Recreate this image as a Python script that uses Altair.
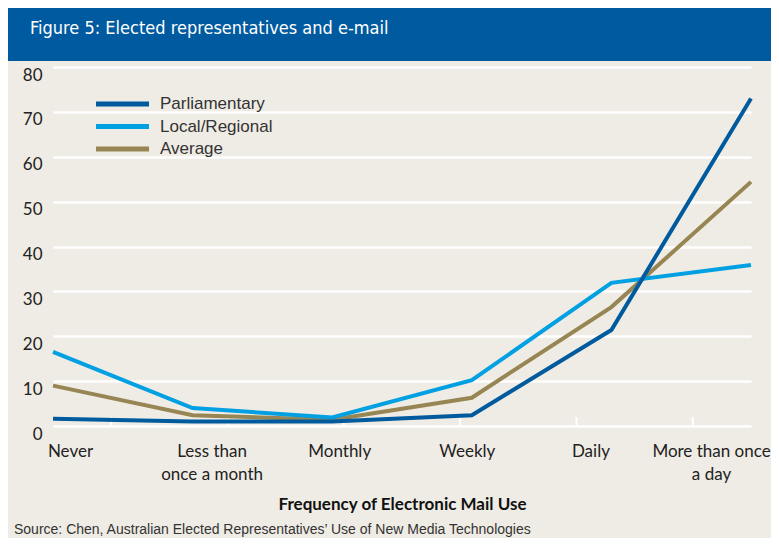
import altair as alt
import pandas as pd

# ---- data ----
categories = ["Never", "Less than once a month", "Monthly", "Weekly", "Daily", "More than once a day"]
series_names = ["Parliamentary", "Local/Regional", "Average"]
parliamentary = [1.6, 1.0, 1.0, 2.4, 21.4, 73.0]
local_regional = [16.5, 4.0, 1.9, 10.2, 31.9, 35.9]
average = [9.0, 2.4, 1.4, 6.3, 26.5, 54.4]
y_ticks = [0, 10, 20, 30, 40, 50, 60, 70, 80]

title_text = "Figure 5: Elected representatives and e-mail"
x_title = "Frequency of Electronic Mail Use"
source_text = "Source: Chen, Australian Elected Representatives\u2019 Use of New Media Technologies"

colors = ["#005A9E", "#00A0E2", "#978653"]
BG = "#EFECE5"
HEADER = "#005A9F"

rows = []
# draw order: Average, Local, Parliamentary (parliamentary on top)
for name, vals in [("Average", average), ("Local/Regional", local_regional), ("Parliamentary", parliamentary)]:
    for c, v in zip(categories, vals):
        rows.append({"category": c, "series": name, "value": v})
df = pd.DataFrame(rows)
cat_df = pd.DataFrame({"category": categories})
leg_df = pd.DataFrame({"series": series_names})
one = pd.DataFrame({"a": [0]})

W, H = 698, 359
LABEL_FONT = "Lato, Open Sans, sans-serif"

color_scale = alt.Scale(domain=series_names, range=colors)

label_expr = ("datum.label == 'Less than once a month' ? ['Less than', 'once a month'] : "
              "datum.label == 'More than once a day' ? ['More than once', 'a day'] : datum.label")
offset_expr = ("datum.value == 'Never' ? 17 : datum.value == 'Less than once a month' ? 19 : "
               "datum.value == 'Monthly' ? 7 : datum.value == 'Weekly' ? -5 : "
               "datum.value == 'Daily' ? -21 : -40")

header = alt.Chart(one).mark_rect(color=HEADER).encode(
    x=alt.value(-60), x2=alt.value(740), y=alt.value(-75), y2=alt.value(-6)
)
header_text = alt.Chart(one).mark_text(
    text=title_text, color="white", align="left", baseline="alphabetic",
    font="DejaVu Sans Condensed, Open Sans Condensed, Lato, sans-serif", fontSize=18
).encode(x=alt.value(-23), y=alt.value(-33))

ticks = alt.Chart(cat_df).mark_rule(color="white", strokeWidth=2).encode(
    x=alt.X("category:N", sort=categories,
            scale=alt.Scale(type="band", paddingInner=0, paddingOuter=0), axis=None),
    y=alt.value(H - 9), y2=alt.value(H)
)

lines = alt.Chart(df).mark_line(strokeWidth=4).encode(
    x=alt.X("category:N", sort=categories,
            scale=alt.Scale(type="point", padding=0),
            axis=alt.Axis(title=x_title, labelAngle=0, labelExpr=label_expr,
                          labelOffset={"expr": offset_expr},
                          labelFont=LABEL_FONT, labelFontSize=17, labelColor="#222",
                          labelLineHeight=23, labelPadding=17, labelBaseline="top",
                          domain=False, ticks=False, grid=False,
                          titleFont="Lato, sans-serif", titleFontSize=17,
                          titleFontWeight="bold", titleColor="#111", titlePadding=14)),
    y=alt.Y("value:Q", scale=alt.Scale(domain=[0, 80]),
            axis=alt.Axis(title=None, values=y_ticks, domain=False, ticks=False,
                          grid=True, gridColor="white", gridWidth=2.5,
                          labelFont=LABEL_FONT, labelFontSize=17, labelColor="#222",
                          labelPadding=11, labelOffset=8)),
    color=alt.Color("series:N", scale=color_scale, legend=None),
    order=alt.Order("series:N")
)

legend_y = alt.Y("series:N", sort=series_names,
                 scale=alt.Scale(type="point", domain=series_names, range=[37, 82], padding=0),
                 axis=None)
legend_lines = alt.Chart(leg_df).mark_rule(strokeWidth=5).encode(
    x=alt.value(43), x2=alt.value(96), y=legend_y,
    color=alt.Color("series:N", scale=color_scale, legend=None)
)
legend_text = alt.Chart(leg_df).mark_text(
    align="left", baseline="middle", font="Liberation Sans, Arial, sans-serif",
    fontSize=17, color="#333"
).encode(x=alt.value(107), y=legend_y, text="series:N")

source = alt.Chart(one).mark_text(
    text=source_text, align="left", baseline="alphabetic",
    font="Liberation Sans, Arial, sans-serif", fontSize=14, color="#333"
).encode(x=alt.value(-39), y=alt.value(467))

chart = alt.layer(
    header, header_text, ticks, lines, legend_lines, legend_text, source
).resolve_scale(x="independent", y="independent").properties(
    width=W, height=H, autosize="none",
    padding={"left": 45, "top": 59, "right": 20, "bottom": 112},
    background=BG
).configure_view(stroke=None)

chart.save("out.html", embed_options={"renderer": "svg", "actions": False})
